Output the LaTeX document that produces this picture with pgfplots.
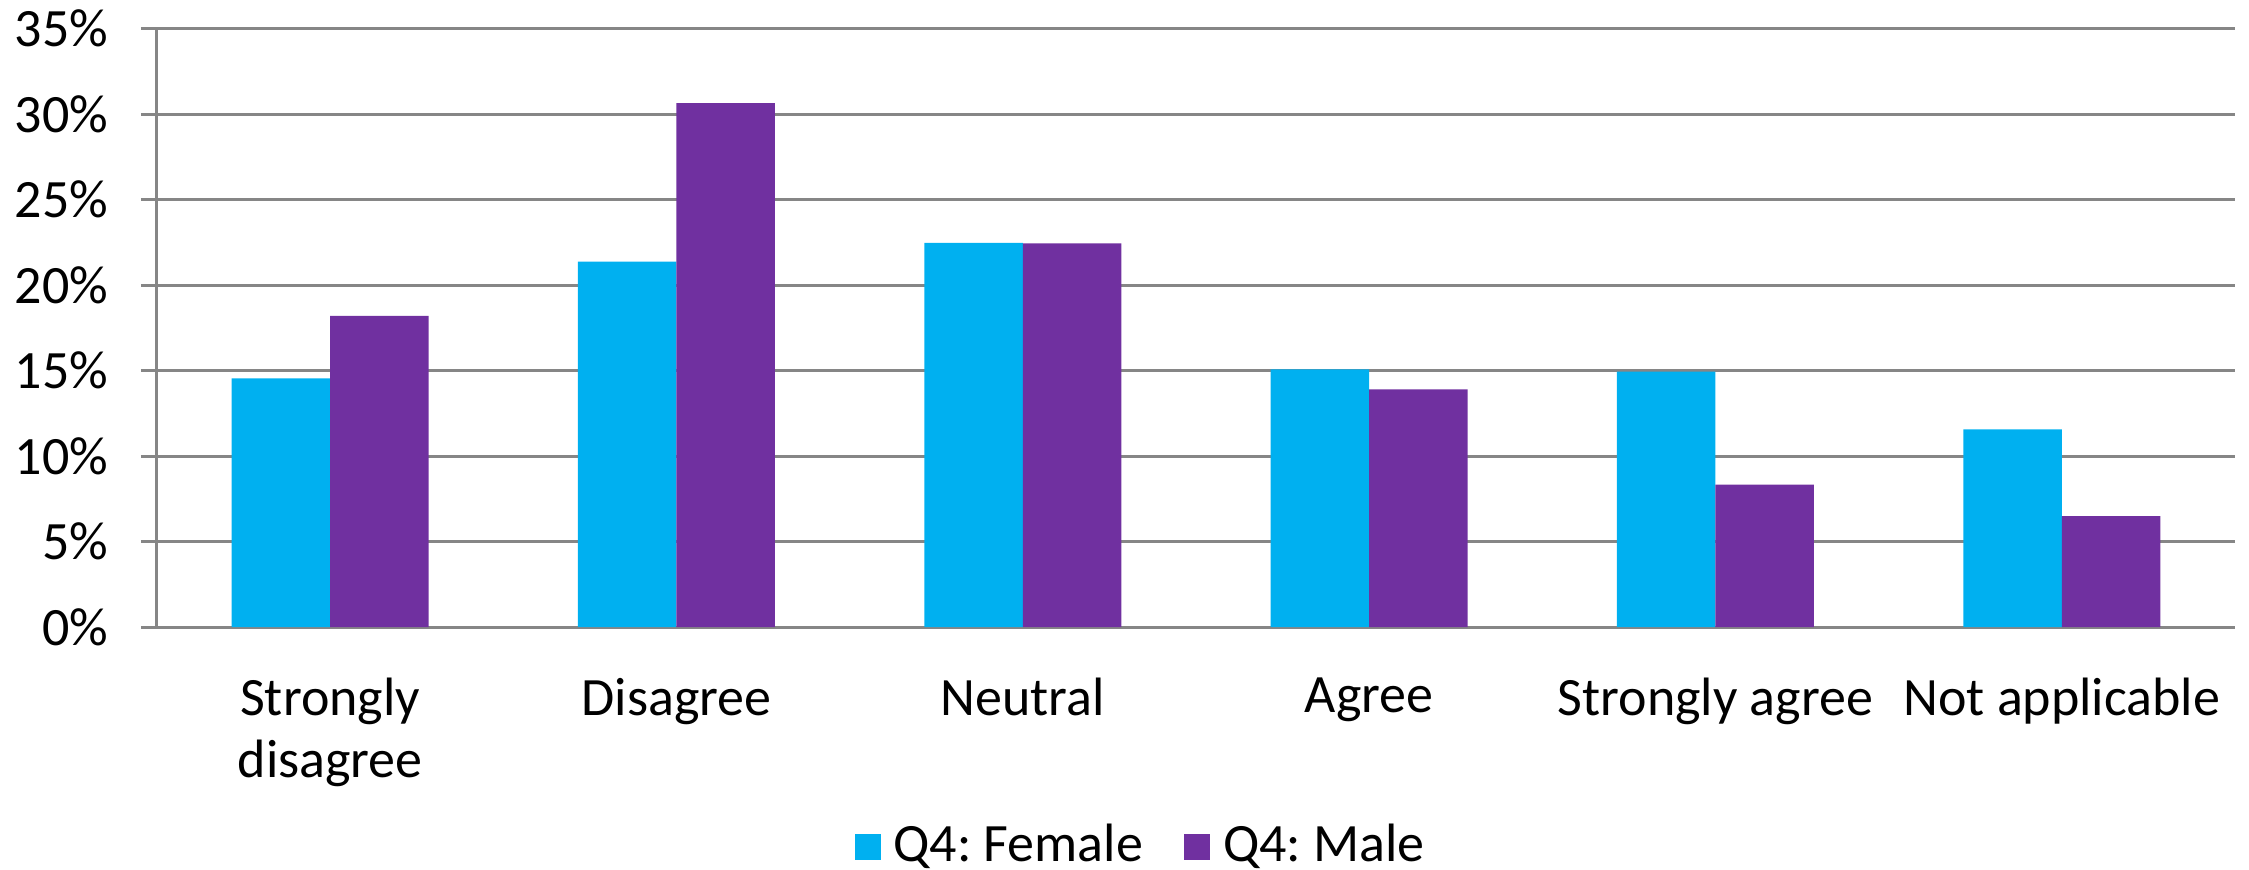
\documentclass[border=0pt]{standalone}
\usepackage{fontspec}
\setmainfont{Carlito}
\usepackage{pgfplots}
\pgfplotsset{compat=1.18}
\definecolor{fem}{HTML}{00B0F0}
\definecolor{mal}{HTML}{7030A0}
\definecolor{gridc}{HTML}{868686}
\newcommand{\lf}{\frenchspacing\fontsize{10.8}{12.4}\selectfont}
\begin{document}
\frenchspacing
\begin{tikzpicture}
\begin{axis}[
  scale only axis,
  width=415.6pt, height=119.7pt,
  at={(0,0)}, anchor=south west,
  ybar=0pt, bar width=19.7pt,
  xmin=-0.5, xmax=5.5,
  ymin=0, ymax=35,
  axis lines*=left,
  axis line style={gridc, line width=0.6pt},
  ymajorgrids, grid style={gridc, line width=0.6pt},
  ytick={0,5,...,35},
  yticklabels={0\%,5\%,10\%,15\%,20\%,25\%,30\%,35\%},
  xtick={0,1,2,3,4,5},
  xticklabels={{Strongly\\disagree},Disagree,Neutral,Agree,{Strongly agree},{Not applicable}},
  x tick style={draw=none},
  extra x ticks={-0.5,0.5,1.5,2.5,3.5,4.5,5.5},
  extra x tick labels={},
  extra x tick style={grid=none, tick style={draw=gridc, line width=0.6pt}},
  tick align=outside,
  major tick length=3.2pt,
  y tick style={gridc, line width=0.6pt},
  ticklabel style={font=\lf, text=black},
  xticklabel style={align=center, yshift=-3.5pt},
  yticklabel style={xshift=-3pt},
  legend style={at={(0.476,-0.367)}, anchor=center, draw=none, fill=none,
    legend columns=2, font=\lf, inner sep=0pt,
    nodes={inner sep=2.6pt},
    /tikz/every even column/.append style={column sep=5.6pt}},
  legend image code/.code={\fill[#1] (0pt,-2.6pt) rectangle (5.2pt,2.6pt);},
  clip=false,
]
\addplot[fill=fem, draw=none] coordinates {(0,14.54) (1,21.37) (2,22.47) (3,15.06) (4,14.93) (5,11.56)};
\addplot[fill=mal, draw=none] coordinates {(0,18.20) (1,30.63) (2,22.44) (3,13.89) (4,8.32) (5,6.48)};
\legend{Q4: Female, Q4: Male}
\end{axis}
\pgfresetboundingbox
\path[use as bounding box] (-31.4pt,-48.5pt) rectangle (418.4pt,125.4pt);
\end{tikzpicture}
\end{document}
